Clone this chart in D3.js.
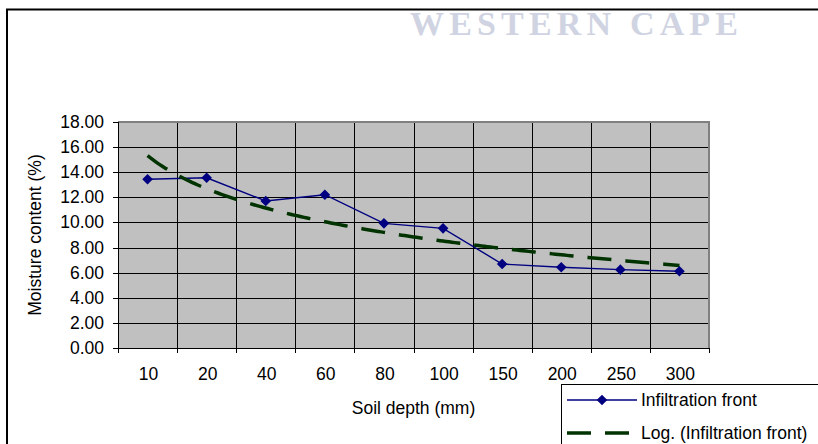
<!DOCTYPE html>
<html>
<head>
<meta charset="utf-8">
<script src="https://cdn.jsdelivr.net/npm/d3@7"></script>
<style>
  body { margin: 0; background: #fff; }
  svg { display: block; }
  text { font-family: "Liberation Sans", Arial, sans-serif; }
</style>
</head>
<body>
<div id="container"></div>
<script>
	var categories = ["10", "20", "40", "60", "80", "100", "150", "200", "250", "300"];
	var moisture = [13.44, 13.56, 11.71, 12.21, 9.93, 9.53, 6.69, 6.43, 6.24, 6.11];
	var yTicks = [0, 2, 4, 6, 8, 10, 12, 14, 16, 18];
	var seriesName = "Infiltration front";
	var trendName = "Log. (Infiltration front)";

	var width = 818, height = 444;
	var plotLeft = 118, plotRight = 709, plotTop = 122, plotBottom = 348;

	var svg = d3.select('#container')
		.append('svg')
		.attr('width', width)
		.attr('height', height);

	// watermark left over from the scanned page
	svg.append('text')
		.attr('x', 410)
		.attr('y', 35)
		.attr('textLength', 328)
		.attr('lengthAdjust', 'spacing')
		.style('font-family', '"Liberation Serif", "Times New Roman", serif')
		.style('font-weight', 'bold')
		.style('font-size', '34px')
		.style('fill', '#d0d4e2')
		.text('WESTERN CAPE');

	// chart area border
	svg.append('rect')
		.attr('x', 7)
		.attr('y', 9.5)
		.attr('width', 840)
		.attr('height', 460)
		.style('fill', 'none')
		.style('stroke', '#000')
		.style('stroke-width', 2);

	var x = d3.scaleBand()
		.domain(categories)
		.range([plotLeft, plotRight])
		.paddingInner(0)
		.paddingOuter(0);

	var y = d3.scaleLinear()
		.domain([0, 18])
		.range([plotBottom, plotTop]);

	// x position of a category index (1-based), for the trendline
	var xi = d3.scaleLinear()
		.domain([0.5, categories.length + 0.5])
		.range([plotLeft, plotRight]);

	svg.append('rect')
		.attr('x', plotLeft)
		.attr('y', plotTop)
		.attr('width', plotRight - plotLeft)
		.attr('height', plotBottom - plotTop)
		.style('fill', '#c0c0c0');

	// horizontal gridlines
	svg.selectAll('line.hgrid')
		.data(yTicks)
		.enter().append('line')
		.attr('class', 'hgrid')
		.attr('x1', plotLeft)
		.attr('x2', plotRight)
		.attr('y1', function(d){ return Math.round(y(d)) + 0.5; })
		.attr('y2', function(d){ return Math.round(y(d)) + 0.5; })
		.style('stroke', '#000')
		.style('stroke-width', 1);

	// vertical gridlines at category boundaries
	var bounds = categories.map(function(d){ return x(d); }).concat([plotRight]);
	svg.selectAll('line.vgrid')
		.data(bounds)
		.enter().append('line')
		.attr('class', 'vgrid')
		.attr('x1', function(d){ return Math.round(d) + 0.5; })
		.attr('x2', function(d){ return Math.round(d) + 0.5; })
		.attr('y1', plotTop)
		.attr('y2', plotBottom + 5)
		.style('stroke', '#000')
		.style('stroke-width', 1);

	// plot border (grey) on top and right
	svg.append('path')
		.attr('d', 'M' + plotLeft + ',' + plotTop + 'H' + plotRight + 'V' + plotBottom)
		.style('fill', 'none')
		.style('stroke', '#808080')
		.style('stroke-width', 2);

	// axes
	svg.append('line')
		.attr('x1', plotLeft + 0.5).attr('x2', plotLeft + 0.5)
		.attr('y1', plotTop).attr('y2', plotBottom)
		.style('stroke', '#000');
	svg.append('line')
		.attr('x1', plotLeft).attr('x2', plotRight)
		.attr('y1', plotBottom + 0.5).attr('y2', plotBottom + 0.5)
		.style('stroke', '#000');

	svg.selectAll('line.ytick')
		.data(yTicks)
		.enter().append('line')
		.attr('class', 'ytick')
		.attr('x1', plotLeft - 5)
		.attr('x2', plotLeft)
		.attr('y1', function(d){ return Math.round(y(d)) + 0.5; })
		.attr('y2', function(d){ return Math.round(y(d)) + 0.5; })
		.style('stroke', '#000');

	svg.selectAll('text.ylab')
		.data(yTicks)
		.enter().append('text')
		.attr('class', 'ylab')
		.attr('x', 104)
		.attr('y', function(d){ return y(d) + 6; })
		.attr('text-anchor', 'end')
		.style('font-size', '17.5px')
		.text(function(d){ return d.toFixed(2); });

	svg.selectAll('text.xlab')
		.data(categories)
		.enter().append('text')
		.attr('class', 'xlab')
		.attr('x', function(d){ return x(d) + x.bandwidth() / 2 + 1; })
		.attr('y', 380)
		.attr('text-anchor', 'middle')
		.style('font-size', '17.5px')
		.text(function(d){ return d; });

	svg.append('text')
		.attr('x', (plotLeft + plotRight) / 2)
		.attr('y', 414)
		.attr('text-anchor', 'middle')
		.style('font-size', '17.5px')
		.text('Soil depth (mm)');

	svg.append('text')
		.attr('transform', 'translate(41,' + ((plotTop + plotBottom) / 2) + ') rotate(-90)')
		.attr('text-anchor', 'middle')
		.style('font-size', '17.5px')
		.text('Moisture content (%)');

	// logarithmic trendline, least squares on ln(category index)
	var lx = moisture.map(function(d, i){ return Math.log(i + 1); });
	var mx = d3.mean(lx), my = d3.mean(moisture);
	var sxy = 0, sxx = 0;
	for (var i = 0; i < moisture.length; i++) {
		sxy += (lx[i] - mx) * (moisture[i] - my);
		sxx += (lx[i] - mx) * (lx[i] - mx);
	}
	var slope = sxy / sxx;
	var intercept = my - slope * mx;
	var trend = d3.range(1, categories.length + 0.001, 0.05).map(function(t){
		return [t, intercept + slope * Math.log(t)];
	});

	var line = d3.line()
		.x(function(d, i){ return x(categories[i]) + x.bandwidth() / 2; })
		.y(function(d){ return y(d); });

	svg.append('path')
		.datum(moisture)
		.attr('d', line)
		.style('fill', 'none')
		.style('stroke', '#000080')
		.style('stroke-width', 1.4);

	svg.append('path')
		.datum(trend)
		.attr('d', d3.line()
			.x(function(d){ return xi(d[0]); })
			.y(function(d){ return y(d[1]); }))
		.style('fill', 'none')
		.style('stroke', '#003300')
		.style('stroke-width', 3.5)
		.style('stroke-dasharray', '24,14');

	var diamond = d3.symbol().type(d3.symbolDiamond2).size(72);
	svg.selectAll('path.marker')
		.data(moisture)
		.enter().append('path')
		.attr('class', 'marker')
		.attr('d', diamond)
		.attr('transform', function(d, i){
			return 'translate(' + (x(categories[i]) + x.bandwidth() / 2) + ',' + y(d) + ')';
		})
		.style('fill', '#000080');

	// legend
	var legend = svg.append('g');
	legend.append('rect')
		.attr('x', 561.5)
		.attr('y', 384.5)
		.attr('width', 300)
		.attr('height', 100)
		.style('fill', '#fff')
		.style('stroke', '#000')
		.style('stroke-width', 1);

	legend.append('line')
		.attr('x1', 567).attr('x2', 637)
		.attr('y1', 400).attr('y2', 400)
		.style('stroke', '#000080')
		.style('stroke-width', 1.4);
	legend.append('path')
		.attr('d', diamond)
		.attr('transform', 'translate(602,400)')
		.style('fill', '#000080');
	legend.append('text')
		.attr('x', 641)
		.attr('y', 406)
		.style('font-size', '17.5px')
		.text(seriesName);

	legend.append('line')
		.attr('x1', 567).attr('x2', 630)
		.attr('y1', 433).attr('y2', 433)
		.style('stroke', '#003300')
		.style('stroke-width', 3.5)
		.style('stroke-dasharray', '24,14');
	legend.append('text')
		.attr('x', 641)
		.attr('y', 439)
		.style('font-size', '17.5px')
		.text(trendName);
</script>
</body>
</html>
